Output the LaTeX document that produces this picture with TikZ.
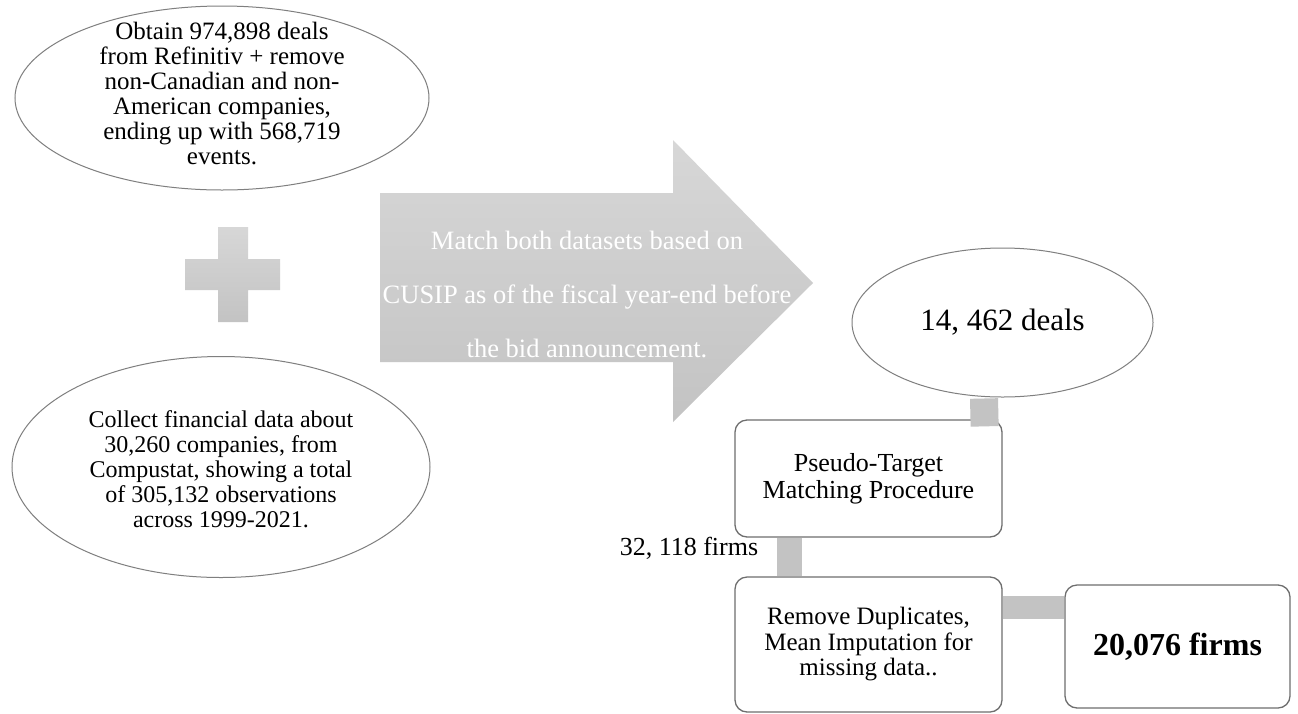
\documentclass[tikz,border=0pt]{standalone}
\usepackage{fontspec}
\setmainfont{Liberation Serif}
\usetikzlibrary{shapes.geometric,calc}
\definecolor{edgec}{HTML}{7F7F7F}
\definecolor{boxc}{HTML}{6E6E6E}
\definecolor{barc}{HTML}{C3C3C3}
\definecolor{shtop}{HTML}{D7D7D7}
\definecolor{shbot}{HTML}{C3C3C3}
\begin{document}
\begin{tikzpicture}[x=1pt,y=-1pt,
  ell/.style={draw=edgec,line width=1pt,fill=white,ellipse,inner sep=0pt},
  rbox/.style={draw=boxc,line width=1.3pt,fill=white,rounded corners=12pt,rectangle,inner sep=0pt,align=center},
  txt/.style={align=center,inner sep=0pt,text=black},
  bar/.style={draw=barc,line cap=butt}]
\useasboundingbox (0,0) rectangle (1298,713);
\fill[white] (0,0) rectangle (1298,713);

% top ellipse
\node[ell,minimum width=414pt,minimum height=184pt] (refin) at (222,98) {};
\node[txt,font=\fontsize{25}{25}\selectfont] (refintxt) at (222,93)
  {Obtain 974,898 deals\\from Refinitiv + remove\\non-Canadian and non-\\American companies,\\ending up with 568,719\\events.};

% plus sign
\shade[top color=shtop,bottom color=shbot]
  (218,227) -- (248,227) -- (248,259) -- (280,259) -- (280,290) -- (248,290)
  -- (248,322) -- (218,322) -- (218,290) -- (185,290) -- (185,259) -- (218,259) -- cycle;

% bottom ellipse
\node[ell,minimum width=418pt,minimum height=221pt] (compu) at (221,467) {};
\node[txt,font=\fontsize{24}{25}\selectfont] (compusttxt) at (221,469)
  {Collect financial data about\\30,260 companies, from\\Compustat, showing a total\\of 305,132 observations\\across 1999-2021.};

% big arrow
\shade[top color=shtop,bottom color=shbot]
  (380,193) -- (673,193) -- (673,140) -- (813,283) -- (673,422) -- (673,362) -- (380,362) -- cycle;
\node[txt,text=white,font=\fontsize{26.5}{54}\selectfont] (arrowtxt) at (587,294)
  {Match both datasets based on\\CUSIP as of the fiscal year-end before\\the bid announcement.};

% deals ellipse
\node[ell,minimum width=301pt,minimum height=149pt,font=\fontsize{31}{31}\selectfont] (deals) at (1002.5,322.5) {14, 462 deals};

% boxes
\node[rbox,minimum width=267pt,minimum height=117pt,font=\fontsize{26}{27}\selectfont] (pseudo) at (868.5,478.5)
  {Pseudo-Target\\Matching Procedure};
\node[rbox,minimum width=267pt,minimum height=135pt,font=\fontsize{25}{25.5}\selectfont] (remove) at (868.5,644.5)
  {Remove Duplicates,\\Mean Imputation for\\missing data..};
\node[rbox,minimum width=225pt,minimum height=123pt,font=\fontsize{32}{32}\bfseries\selectfont] (final) at (1177.5,646.5)
  {20,076 firms};

% connectors
\draw[bar,line width=28pt] ([xshift=-18.5pt,yshift=-1pt]deals.south) -- ([xshift=-18pt,yshift=-7pt]pseudo.north east);
\draw[bar,line width=25pt] ([xshift=55.5pt]pseudo.south west) -- ([xshift=55.5pt]remove.north west);
\draw[bar,line width=23pt] ([yshift=-31.5pt]remove.north east) -- ([yshift=-23.5pt]final.north west);

% label
\node[txt,font=\fontsize{26}{26}\selectfont] (firmslbl) at (689,548) {32, 118 firms};
\end{tikzpicture}
\end{document}
